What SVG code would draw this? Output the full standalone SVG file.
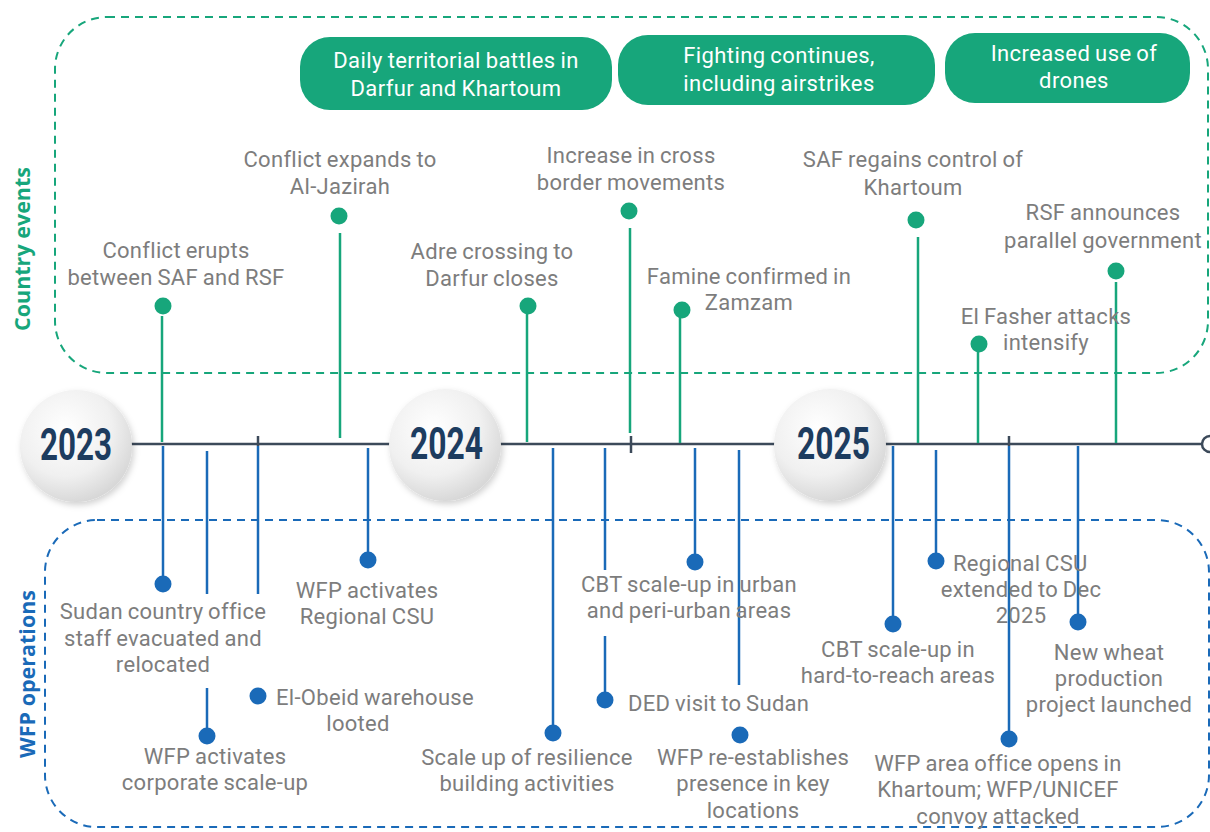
<svg xmlns="http://www.w3.org/2000/svg" width="1210" height="832" viewBox="0 0 1210 832">
<defs>
<radialGradient id="yg" cx="0.4" cy="0.35" r="0.7">
<stop offset="0" stop-color="#ffffff"/>
<stop offset="0.6" stop-color="#f0f0f0"/>
<stop offset="1" stop-color="#d4d4d4"/>
</radialGradient>
<filter id="sh" x="-20%" y="-20%" width="140%" height="140%">
<feDropShadow dx="2" dy="3" stdDeviation="3" flood-color="#000" flood-opacity="0.18"/>
</filter>
</defs>
<style>
.lbl{font-family:Roboto,"Liberation Sans",sans-serif;font-size:22px;fill:#7d7d7d;letter-spacing:0.3px;word-spacing:-1px}
.pill{fill:#17a67b}
.ptxt{font-family:Roboto,"Liberation Sans",sans-serif;font-size:22px;fill:#ffffff;letter-spacing:0.4px;word-spacing:-1px;text-anchor:middle}
.gl{stroke:#17a67b;stroke-width:2.5;fill:none}
.bl{stroke:#1a6ab8;stroke-width:2.5;fill:none}
.gd{fill:#17a67b}
.bd{fill:#1a6ab8}
.tl{stroke:#3c4a5a;stroke-width:2.5;fill:none}
.yr{font-family:Roboto,"Liberation Sans",sans-serif;font-weight:bold;font-size:44px;fill:#1d3c5f}
.c{text-anchor:middle}
.sec{font-family:"Open Sans","Liberation Sans",sans-serif;font-weight:bold;font-size:21.5px;text-anchor:middle}
</style>
<rect x="0" y="0" width="1210" height="832" fill="#ffffff"/>

<g id="country-box">
<rect x="55" y="17" width="1153" height="356" rx="52" fill="none" stroke="#17a67b" stroke-width="2" stroke-dasharray="8 6"/>
<text class="sec" x="0" y="0" fill="#17a67b" transform="translate(30 249) rotate(-90)">Country events</text>
</g>
<g id="wfp-box">
<rect x="45" y="520" width="1164" height="307" rx="52" fill="none" stroke="#1a6ab8" stroke-width="2" stroke-dasharray="8 6"/>
<text class="sec" x="0" y="0" fill="#1a6ab8" transform="translate(35 674) rotate(-90)">WFP operations</text>
</g>

<g id="connectors">
<line class="tl" x1="130" y1="444" x2="392" y2="444"/>
<line class="tl" x1="498" y1="444" x2="777" y2="444"/>
<line class="tl" x1="883" y1="444" x2="1202" y2="444"/>
<line class="tl" x1="631" y1="436" x2="631" y2="453"/>
<line class="tl" x1="258" y1="436" x2="258" y2="446"/>
<line class="tl" x1="1009" y1="436" x2="1009" y2="446"/>
<line class="gl" x1="162" y1="316" x2="162" y2="442"/>
<line class="gl" x1="340" y1="233" x2="340" y2="438"/>
<line class="gl" x1="527" y1="310" x2="527" y2="442"/>
<line class="gl" x1="630" y1="228" x2="630" y2="433"/>
<line class="gl" x1="680" y1="312" x2="680" y2="443"/>
<line class="gl" x1="918" y1="237" x2="918" y2="443"/>
<line class="gl" x1="978" y1="346" x2="978" y2="443"/>
<line class="gl" x1="1116" y1="282" x2="1116" y2="443"/>
<line class="bl" x1="163" y1="446" x2="163" y2="584"/>
<line class="bl" x1="207" y1="451" x2="207" y2="594"/>
<line class="bl" x1="207" y1="688" x2="207" y2="728"/>
<line class="bl" x1="258" y1="446" x2="258" y2="594"/>
<line class="bl" x1="368" y1="448" x2="368" y2="560"/>
<line class="bl" x1="553" y1="448" x2="553" y2="730"/>
<line class="bl" x1="605" y1="448" x2="605" y2="570"/>
<line class="bl" x1="605" y1="636" x2="605" y2="698"/>
<line class="bl" x1="695" y1="448" x2="695" y2="560"/>
<line class="bl" x1="739" y1="450" x2="739" y2="685"/>
<line class="bl" x1="893" y1="446" x2="893" y2="622"/>
<line class="bl" x1="936" y1="450" x2="936" y2="558"/>
<line class="bl" x1="1009" y1="446" x2="1009" y2="736"/>
<line class="bl" x1="1078" y1="446" x2="1078" y2="620"/>
<circle cx="1210" cy="444" r="8" fill="#ffffff" stroke="#3c4a5a" stroke-width="2.5"/>
</g>

<g id="year-2023">
<circle cx="76" cy="446" r="56" fill="url(#yg)" filter="url(#sh)"/>
<text class="yr" x="40" y="460" textLength="72" lengthAdjust="spacingAndGlyphs">2023</text>
</g>
<g id="year-2024">
<circle cx="445" cy="445" r="56" fill="url(#yg)" filter="url(#sh)"/>
<text class="yr" x="410" y="459" textLength="73" lengthAdjust="spacingAndGlyphs">2024</text>
</g>
<g id="year-2025">
<circle cx="830" cy="445" r="56" fill="url(#yg)" filter="url(#sh)"/>
<text class="yr" x="797" y="459" textLength="73" lengthAdjust="spacingAndGlyphs">2025</text>
</g>

<g id="pill-daily">
<rect class="pill" x="300" y="37" width="312" height="73" rx="30"/>
<text class="ptxt" x="456" y="68">Daily territorial battles in<tspan x="456" dy="28">Darfur and Khartoum</tspan></text>
</g>
<g id="pill-fighting">
<rect class="pill" x="618" y="35" width="317" height="70" rx="30"/>
<text class="ptxt" x="779" y="63">Fighting continues,<tspan x="779" dy="28">including airstrikes</tspan></text>
</g>
<g id="pill-drones">
<rect class="pill" x="945" y="33" width="245" height="70" rx="30"/>
<text class="ptxt" x="1074" y="61">Increased use of<tspan x="1074" dy="27">drones</tspan></text>
</g>

<g id="ev-conflict-erupts">
<circle class="gd" cx="163" cy="306" r="8.5"/>
<text class="lbl c" x="176" y="258">Conflict erupts<tspan x="176" dy="27">between SAF and RSF</tspan></text>
</g>
<g id="ev-al-jazirah">
<circle class="gd" cx="339" cy="216" r="8.5"/>
<text class="lbl c" x="340" y="167">Conflict expands to<tspan x="340" dy="27">Al-Jazirah</tspan></text>
</g>
<g id="ev-adre">
<circle class="gd" cx="528" cy="306" r="8.5"/>
<text class="lbl c" x="492" y="259">Adre crossing to<tspan x="492" dy="27">Darfur closes</tspan></text>
</g>
<g id="ev-cross-border">
<circle class="gd" cx="629" cy="211" r="8.5"/>
<text class="lbl c" x="631" y="163">Increase in cross<tspan x="631" dy="27">border movements</tspan></text>
</g>
<g id="ev-famine">
<circle class="gd" cx="682" cy="310" r="8.5"/>
<text class="lbl c" x="749" y="284">Famine confirmed in<tspan x="749" dy="26">Zamzam</tspan></text>
</g>
<g id="ev-saf-khartoum">
<circle class="gd" cx="916" cy="220" r="8.5"/>
<text class="lbl c" x="913" y="167">SAF regains control of<tspan x="913" dy="28">Khartoum</tspan></text>
</g>
<g id="ev-rsf-gov">
<circle class="gd" cx="1116" cy="271" r="8.5"/>
<text class="lbl c" x="1103" y="220">RSF announces<tspan x="1103" dy="28">parallel government</tspan></text>
</g>
<g id="ev-el-fasher">
<circle class="gd" cx="979" cy="344" r="8.5"/>
<text class="lbl c" x="1046" y="324">El Fasher attacks<tspan x="1046" dy="26">intensify</tspan></text>
</g>

<g id="op-evacuated">
<circle class="bd" cx="163" cy="584" r="8.5"/>
<text class="lbl c" x="163" y="619">Sudan country office<tspan x="163" dy="27">staff evacuated and</tspan><tspan x="163" dy="26">relocated</tspan></text>
</g>
<g id="op-corporate">
<circle class="bd" cx="207" cy="736" r="8.5"/>
<text class="lbl c" x="215" y="764">WFP activates<tspan x="215" dy="26">corporate scale-up</tspan></text>
</g>
<g id="op-el-obeid">
<circle class="bd" cx="258" cy="696" r="8.5"/>
<text class="lbl" x="276" y="705">El-Obeid warehouse<tspan class="c" x="358" dy="26">looted</tspan></text>
</g>
<g id="op-regional-csu">
<circle class="bd" cx="368" cy="560" r="8.5"/>
<text class="lbl c" x="367" y="598">WFP activates<tspan x="367" dy="26">Regional CSU</tspan></text>
</g>
<g id="op-resilience">
<circle class="bd" cx="553" cy="733" r="8.5"/>
<text class="lbl c" x="527" y="765">Scale up of resilience<tspan x="527" dy="26">building activities</tspan></text>
</g>
<g id="op-cbt-urban">
<circle class="bd" cx="695" cy="562" r="8.5"/>
<text class="lbl c" x="689" y="592">CBT scale-up in urban<tspan x="689" dy="26">and peri-urban areas</tspan></text>
</g>
<g id="op-ded">
<circle class="bd" cx="605" cy="700" r="8.5"/>
<text class="lbl" x="628" y="711">DED visit to Sudan</text>
</g>
<g id="op-re-establish">
<circle class="bd" cx="740" cy="735" r="8.5"/>
<text class="lbl c" x="753" y="765">WFP re-establishes<tspan x="753" dy="26">presence in key</tspan><tspan x="753" dy="27">locations</tspan></text>
</g>
<g id="op-cbt-hard">
<circle class="bd" cx="893" cy="624" r="8.5"/>
<text class="lbl c" x="898" y="657">CBT scale-up in<tspan x="898" dy="26">hard-to-reach areas</tspan></text>
</g>
<g id="op-csu-extended">
<circle class="bd" cx="936" cy="561" r="8.5"/>
<text class="lbl" x="953" y="571">Regional CSU<tspan class="c" x="1021" dy="26">extended to Dec</tspan><tspan class="c" x="1021" dy="26">2025</tspan></text>
</g>
<g id="op-area-office">
<circle class="bd" cx="1009" cy="739" r="8.5"/>
<text class="lbl c" x="998" y="771">WFP area office opens in<tspan x="998" dy="26">Khartoum; WFP/UNICEF</tspan><tspan x="998" dy="27">convoy attacked</tspan></text>
</g>
<g id="op-wheat">
<circle class="bd" cx="1078" cy="622" r="8.5"/>
<text class="lbl c" x="1109" y="660">New wheat<tspan x="1109" dy="26">production</tspan><tspan x="1109" dy="26">project launched</tspan></text>
</g>
</svg>
